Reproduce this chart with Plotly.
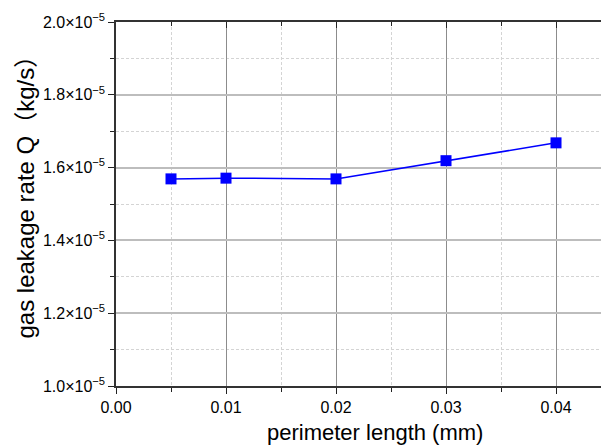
import plotly.graph_objects as go

x_vals = [0.005, 0.01, 0.02, 0.03, 0.04]
q_vals = [1.569e-5, 1.571e-5, 1.569e-5, 1.619e-5, 1.668e-5]

y_tickvals = [1.0e-5, 1.2e-5, 1.4e-5, 1.6e-5, 1.8e-5, 2.0e-5]
y_ticktext = ["1.0×10<sup>−5</sup>", "1.2×10<sup>−5</sup>", "1.4×10<sup>−5</sup>",
              "1.6×10<sup>−5</sup>", "1.8×10<sup>−5</sup>", "2.0×10<sup>−5</sup>"]
x_tickvals = [0.0, 0.01, 0.02, 0.03, 0.04]
x_ticktext = ["0.00", "0.01", "0.02", "0.03", "0.04"]
x_title = "perimeter length (mm)"
y_title = "gas leakage rate Q（kg/s）"

FONT = "Liberation Sans, Arial, Noto Sans CJK SC, sans-serif"

fig = go.Figure()
fig.add_trace(go.Scatter(
    x=x_vals, y=q_vals, mode="lines+markers",
    line=dict(color="#0000ff", width=1.5),
    marker=dict(symbol="square", size=11, color="#0000ff"),
    showlegend=False,
))

xr = [0, 0.04409]
yr = [1.0e-5, 2.0e-5]

fig.update_layout(
    width=601, height=448,
    margin=dict(l=116, r=0, t=22, b=62),
    paper_bgcolor="white", plot_bgcolor="white",
    font=dict(family=FONT, color="black"),
    xaxis=dict(
        range=xr, tickvals=x_tickvals, ticktext=x_ticktext,
        ticks="outside", ticklen=6, tickwidth=1.2, tickcolor="#222",
        showline=True, linecolor="#333", linewidth=1.5,
        showgrid=True, gridcolor="#8c8c8c", gridwidth=1.2,
        zeroline=False,
        tickfont=dict(size=16, family=FONT),
        minor=dict(tickvals=[0.005, 0.015, 0.025, 0.035], ticks="outside", ticklen=4,
                   tickcolor="#222", showgrid=True, gridcolor="#d4d4d4", griddash="3px,2px", gridwidth=1),
    ),
    xaxis2=dict(
        range=xr, overlaying="x", side="top", matches="x",
        tickvals=x_tickvals, showticklabels=False,
        ticks="inside", ticklen=6, tickwidth=1.2, tickcolor="#222",
        showline=True, linecolor="#333", linewidth=1.5,
        showgrid=False, zeroline=False,
        minor=dict(tickvals=[0.005, 0.015, 0.025, 0.035], ticks="inside", ticklen=4, tickcolor="#222"),
    ),
    yaxis=dict(
        range=yr, tickvals=y_tickvals, ticktext=y_ticktext,
        ticks="outside", ticklen=6, tickwidth=1.2, tickcolor="#222",
        showline=True, linecolor="#333", linewidth=1.5,
        showgrid=True, gridcolor="#bdbdbd", gridwidth=1.5,
        zeroline=False,
        tickfont=dict(size=16, family=FONT),
        minor=dict(tickvals=[1.1e-5, 1.3e-5, 1.5e-5, 1.7e-5, 1.9e-5], ticks="outside", ticklen=4,
                   tickcolor="#222", showgrid=True, gridcolor="#d4d4d4", griddash="3px,2px", gridwidth=1),
    ),
    annotations=[
        dict(
            text=x_title, xref="paper", yref="paper", x=0.534, y=-0.128,
            xanchor="center", yanchor="middle", showarrow=False,
            font=dict(size=22, family=FONT, color="black"),
        ),
        dict(
            text=y_title, xref="paper", yref="paper", x=-0.187, y=0.535,
            xanchor="center", yanchor="middle", showarrow=False, textangle=-90,
            font=dict(size=24, family=FONT, color="black"),
        ),
    ],
)
fig.add_trace(go.Scatter(x=[None], y=[None], xaxis="x2", showlegend=False, hoverinfo="skip"))

fig.write_html("out.html")
